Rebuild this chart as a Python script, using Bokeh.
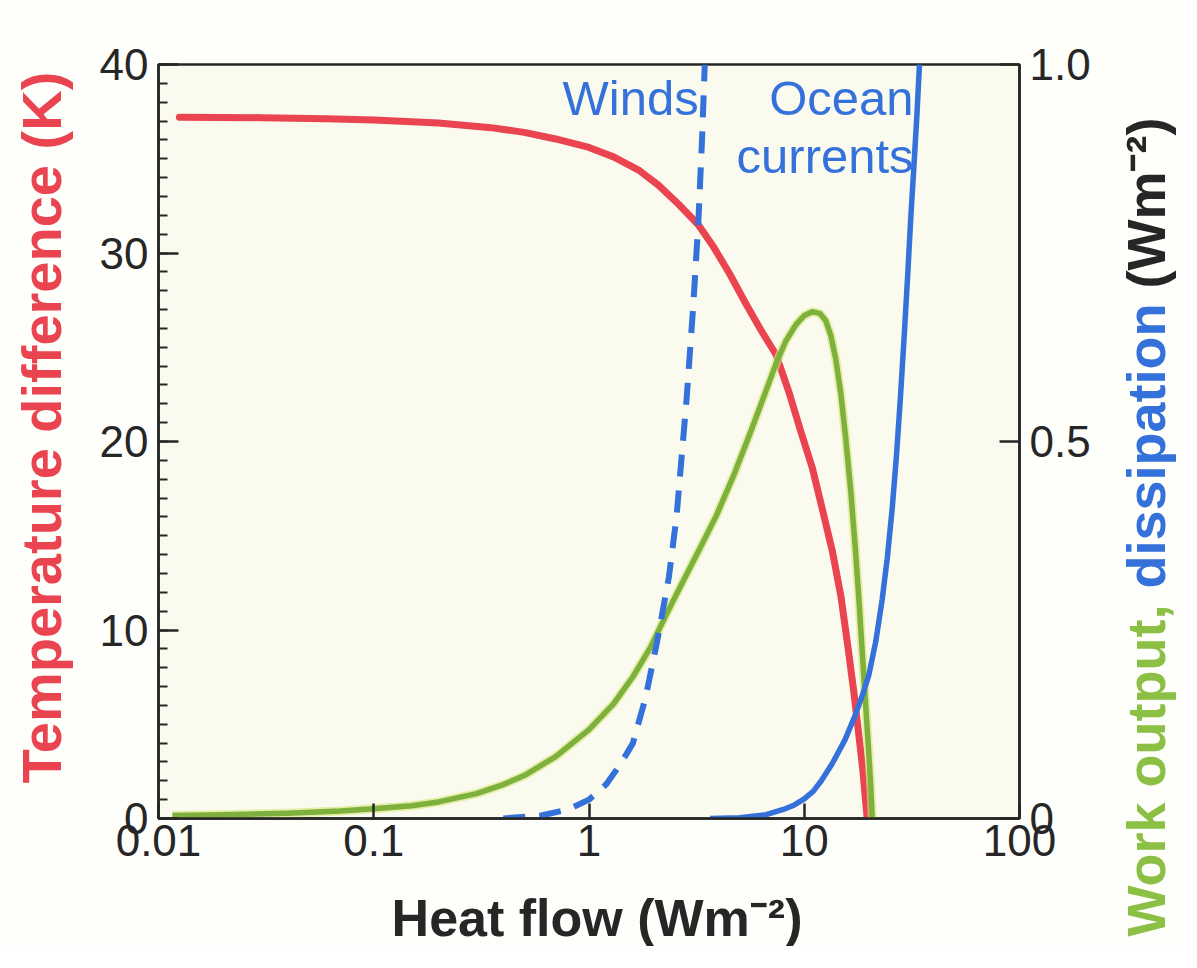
import math
from bokeh.plotting import figure
from bokeh.layouts import row, column
from bokeh.models import Range1d, LinearAxis, FixedTicker, CustomJSTickFormatter, Label
from bokeh.embed import file_html
from bokeh.resources import INLINE

# ---------------- data ----------------
# Temperature difference (K), left axis
temp_x = [0.0125, 0.03, 0.06, 0.1, 0.2, 0.35, 0.5, 0.7, 1.0, 1.3, 1.7, 2.1, 2.6, 3.22,
          3.8, 4.5, 5.3, 6.3, 7.4, 8.5, 9.6, 10.9, 12.2, 13.5, 14.8, 16.0, 17.0, 17.9,
          18.7, 19.6]
temp_k = [37.2, 37.18, 37.12, 37.05, 36.9, 36.65, 36.4, 36.05, 35.6, 35.1, 34.4, 33.6,
          32.6, 31.5, 30.3, 28.9, 27.4, 25.9, 24.6, 22.6, 20.6, 18.6, 16.3, 14.2, 11.8,
          9.0, 6.7, 4.5, 2.6, 0.0]

# Work output (W m-2), right axis
work_x = [0.0116, 0.02, 0.04, 0.07, 0.1, 0.15, 0.2, 0.3, 0.4, 0.5, 0.7, 1.0, 1.3, 1.6,
          1.93, 2.3, 2.74, 3.3, 3.91, 4.7, 5.57, 6.5, 7.39, 8.2, 9.15, 10.0, 10.9, 11.8,
          12.6, 13.3, 14.0, 14.8, 15.6, 16.5, 17.3, 18.0, 18.6, 19.3, 19.95, 20.4, 20.7]
work_w = [0.004, 0.005, 0.007, 0.010, 0.013, 0.017, 0.022, 0.033, 0.045, 0.057, 0.082,
          0.118, 0.152, 0.188, 0.227, 0.272, 0.315, 0.36, 0.402, 0.455, 0.509, 0.56,
          0.603, 0.633, 0.655, 0.667, 0.672, 0.670, 0.660, 0.640, 0.610, 0.563, 0.503,
          0.430, 0.355, 0.285, 0.220, 0.150, 0.086, 0.04, 0.0]

# Dissipation by winds (dashed), right axis
wind_x = [0.40, 0.6, 0.8, 1.0, 1.2, 1.4, 1.6, 1.83, 2.07, 2.35, 2.55, 2.84, 3.05,
          3.22, 3.35, 3.45]
wind_w = [0.0, 0.004, 0.012, 0.025, 0.045, 0.072, 0.10, 0.16, 0.234, 0.32, 0.40,
          0.556, 0.68, 0.79, 0.9, 1.0]

# Dissipation by ocean currents (solid blue), right axis
ocean_x = [3.65, 5.0, 6.65, 8.0, 9.0, 10.0, 11.0, 12.0, 13.5, 15.5, 17.3, 18.7, 19.95,
           21.5, 23.0, 24.3, 25.6, 26.8, 28.0, 29.2, 30.3, 31.3, 32.4, 33.4, 34.3]
ocean_w = [0.0, 0.001, 0.005, 0.012, 0.018, 0.026, 0.036, 0.05, 0.073, 0.105, 0.138,
           0.165, 0.19, 0.235, 0.29, 0.345, 0.41, 0.48, 0.56, 0.645, 0.725, 0.80,
           0.87, 0.935, 1.0]

x_ticks = [0.01, 0.1, 1, 10, 100]
left_ticks = [0, 10, 20, 30, 40]
left_minor = list(range(0, 41))
right_ticks = [0, 0.5, 1.0]

FONT = "Liberation Sans"
RED = "#e9444f"
GREEN = "#7db03c"
GREEN_TXT = "#8cc045"
BLUE = "#3471db"
INK = "#262626"
PAPER = "#fefefb"

# ---------------- main chart ----------------
p = figure(width=1019, height=876, x_axis_type="log",
           x_range=Range1d(0.01, 100), y_range=Range1d(0, 40),
           output_backend="svg", toolbar_location=None,
           min_border_left=80, min_border_right=78,
           min_border_top=64, min_border_bottom=58)
p.extra_y_ranges = {"w": Range1d(0, 1)}
p.background_fill_color = "#fafaef"
p.border_fill_color = PAPER
p.outline_line_color = INK
p.outline_line_width = 2.5
p.grid.visible = False

xa = p.xaxis[0]
xa.ticker = FixedTicker(ticks=x_ticks, minor_ticks=[])
xa.formatter = CustomJSTickFormatter(code="return String(tick);")
xa.major_tick_in = 15
xa.major_tick_out = 0

ya = p.yaxis[0]
ya.ticker = FixedTicker(ticks=left_ticks, minor_ticks=left_minor)
ya.major_tick_in = 20
ya.major_tick_out = 0
ya.minor_tick_in = 9
ya.minor_tick_out = 0

ra = LinearAxis(y_range_name="w",
                ticker=FixedTicker(ticks=right_ticks, minor_ticks=[]),
                formatter=CustomJSTickFormatter(code="return tick == 1 ? '1.0' : String(tick);"))
ra.major_tick_in = 20
ra.major_tick_out = 0
p.add_layout(ra, "right")

for ax in (xa, ya, ra):
    ax.axis_line_color = INK
    ax.axis_line_width = 2.5
    ax.major_tick_line_color = INK
    ax.major_tick_line_width = 2.5
    ax.minor_tick_line_color = INK
    ax.minor_tick_line_width = 2
    ax.major_label_text_font = FONT
    ax.major_label_text_font_size = "44px"
    ax.major_label_text_color = INK
    ax.major_label_standoff = 10
xa.major_label_standoff = 6

# curves
p.line(temp_x, temp_k, line_color=RED, line_width=7, line_join="round", line_cap="round")
p.line(work_x, work_w, y_range_name="w", line_color="#d6e676", line_width=9,
       line_alpha=0.6, line_join="round")
p.line(work_x, work_w, y_range_name="w", line_color=GREEN, line_width=5.5, line_join="round")
p.line(wind_x, wind_w, y_range_name="w", line_color=BLUE, line_width=6,
       line_dash="22 14", line_join="round")
p.line(ocean_x, ocean_w, y_range_name="w", line_color=BLUE, line_width=5.5,
       line_join="round")

# in-plot labels
for txt, xx, yy in (("Winds", 3.03, 37.7), ("Ocean", 30.2, 37.7), ("currents", 30.2, 34.6)):
    p.add_layout(Label(x=xx, y=yy, x_offset=6, y_offset=10, text=txt, text_align="right",
                       text_baseline="alphabetic", text_font=FONT,
                       text_font_size="49px", text_color=BLUE))


def strip(w, h):
    f = figure(width=w, height=h, x_range=Range1d(0, w), y_range=Range1d(0, h),
               output_backend="svg", toolbar_location=None, min_border=0, title=None,
               x_axis_location=None, y_axis_location=None)
    f.grid.visible = False
    f.outline_line_color = None
    f.background_fill_color = PAPER
    f.border_fill_color = PAPER
    return f


def title(f, text, x, y, color, size, align="center", angle=0.0):
    f.add_layout(Label(x=x, y=y, text=text, angle=angle, text_align=align,
                       text_baseline="alphabetic", text_font=FONT,
                       text_font_size=size, text_font_style="bold",
                       text_color=color))


# left title strip
p0 = strip(78, 946)
title(p0, "Temperature difference (K)", 41, 519, RED, "56px", angle=math.pi / 2)

# bottom title strip
p3 = strip(1019, 70)
title(p3, "Heat flow (Wm\u207b\u00b2)", 519, 29, INK, "52px")

# right title strip (three colours)
p2 = strip(84, 946)
title(p2, "Work output,", 48.5, 10, GREEN_TXT, "54px", align="left", angle=math.pi / 2)
title(p2, "dissipation", 48.5, 358, BLUE, "54px", align="left", angle=math.pi / 2)
title(p2, "(Wm\u207b\u00b2)", 48.5, 658, INK, "54px", align="left", angle=math.pi / 2)

layout = row(p0, column(p, p3, spacing=0), p2, spacing=0)
open("out.html", "w").write(file_html(layout, INLINE))
